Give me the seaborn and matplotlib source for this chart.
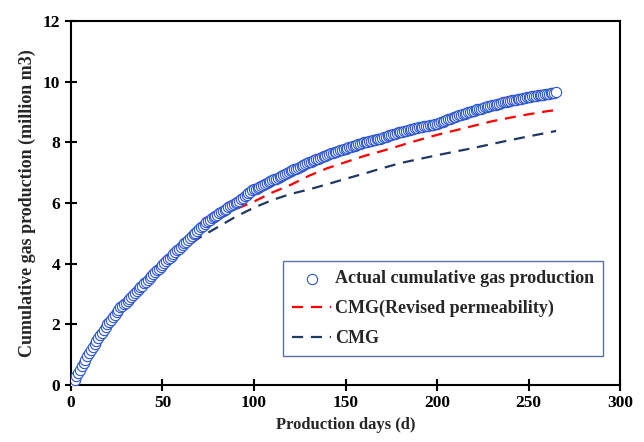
import numpy as np
import pandas as pd
import matplotlib
matplotlib.use("Agg")
import matplotlib.pyplot as plt
import seaborn as sns

# ---- data ----
actual_days = list(range(0, 266))
actual_gas = [
    0.00, 0.08, 0.18, 0.29, 0.40, 0.51, 0.62, 0.73, 0.84, 0.95,
    1.05, 1.15, 1.25, 1.35, 1.45, 1.55, 1.64, 1.73, 1.82, 1.91,
    2.00, 2.08, 2.16, 2.24, 2.32, 2.40, 2.48, 2.56, 2.62, 2.67,
    2.72, 2.78, 2.84, 2.90, 2.96, 3.03, 3.10, 3.16, 3.22, 3.28,
    3.35, 3.41, 3.47, 3.54, 3.60, 3.66, 3.72, 3.78, 3.84, 3.90,
    3.96, 4.02, 4.08, 4.14, 4.20, 4.26, 4.32, 4.38, 4.44, 4.50,
    4.55, 4.61, 4.67, 4.73, 4.79, 4.85, 4.91, 4.97, 5.03, 5.09,
    5.15, 5.21, 5.26, 5.31, 5.36, 5.41, 5.45, 5.50, 5.54, 5.58,
    5.62, 5.66, 5.70, 5.74, 5.78, 5.82, 5.86, 5.90, 5.93, 5.97,
    6.00, 6.04, 6.08, 6.13, 6.18, 6.23, 6.28, 6.33, 6.38, 6.42,
    6.45, 6.48, 6.51, 6.54, 6.57, 6.60, 6.63, 6.66, 6.69, 6.72,
    6.75, 6.78, 6.81, 6.84, 6.87, 6.90, 6.93, 6.96, 6.99, 7.02,
    7.05, 7.08, 7.11, 7.14, 7.17, 7.20, 7.23, 7.26, 7.29, 7.32,
    7.35, 7.37, 7.40, 7.42, 7.45, 7.47, 7.50, 7.52, 7.55, 7.57,
    7.60, 7.62, 7.64, 7.66, 7.68, 7.70, 7.72, 7.74, 7.76, 7.78,
    7.80, 7.82, 7.84, 7.86, 7.88, 7.90, 7.92, 7.94, 7.96, 7.98,
    8.00, 8.01, 8.03, 8.04, 8.06, 8.07, 8.09, 8.10, 8.12, 8.13,
    8.15, 8.17, 8.19, 8.21, 8.23, 8.25, 8.27, 8.29, 8.31, 8.33,
    8.35, 8.36, 8.38, 8.39, 8.41, 8.42, 8.44, 8.45, 8.47, 8.48,
    8.50, 8.51, 8.52, 8.53, 8.54, 8.55, 8.56, 8.57, 8.59, 8.60,
    8.62, 8.64, 8.66, 8.68, 8.71, 8.73, 8.76, 8.78, 8.81, 8.83,
    8.85, 8.87, 8.89, 8.91, 8.93, 8.95, 8.97, 8.99, 9.01, 9.03,
    9.05, 9.07, 9.09, 9.10, 9.12, 9.14, 9.16, 9.17, 9.19, 9.20,
    9.22, 9.23, 9.25, 9.26, 9.28, 9.30, 9.32, 9.33, 9.35, 9.36,
    9.38, 9.39, 9.40, 9.41, 9.43, 9.44, 9.45, 9.46, 9.48, 9.49,
    9.50, 9.51, 9.52, 9.53, 9.54, 9.55, 9.56, 9.57, 9.58, 9.59,
    9.60, 9.61, 9.62, 9.63, 9.64, 9.65]

sim_days = [0, 10, 20, 30, 40, 50, 60, 70, 80, 90, 100, 110, 120, 130, 140,
            150, 160, 170, 180, 190, 200, 210, 220, 230, 240, 250, 260, 265]
cmg_revised = [0.0, 1.0, 1.95, 2.7, 3.35, 3.95, 4.5, 5.0, 5.45, 5.8, 6.05,
               6.35, 6.6, 6.9, 7.15, 7.35, 7.55, 7.72, 7.9, 8.08, 8.25, 8.4,
               8.55, 8.7, 8.82, 8.93, 9.03, 9.07]
cmg = [0.0, 1.0, 1.95, 2.7, 3.3, 3.9, 4.4, 4.85, 5.2, 5.55, 5.85, 6.1, 6.3,
       6.45, 6.62, 6.8, 6.97, 7.15, 7.32, 7.45, 7.58, 7.7, 7.82, 7.95, 8.08,
       8.2, 8.32, 8.38]

x_ticks = [0, 50, 100, 150, 200, 250, 300]
y_ticks = [0, 2, 4, 6, 8, 10, 12]

labels = ["Actual cumulative gas production", "CMG(Revised permeability)", "CMG"]

# ---- style ----
sns.set_style("ticks")
plt.rcParams['font.family'] = ['Liberation Serif', 'DejaVu Serif']
plt.rcParams['font.weight'] = 'bold'
plt.rcParams['axes.labelweight'] = 'bold'

fig = plt.figure(figsize=(6.44, 4.42), dpi=100)
ax = fig.add_axes([0.110, 0.129, 0.853, 0.823])

df_act = pd.DataFrame({"day": actual_days, "gas": actual_gas})
df_rev = pd.DataFrame({"day": sim_days, "gas": cmg_revised})
df_cmg = pd.DataFrame({"day": sim_days, "gas": cmg})

sns.lineplot(data=df_cmg, x="day", y="gas", ax=ax, color="#1F3864",
             linewidth=1.6, label=labels[2], zorder=2)
ax.lines[-1].set_dashes([5, 3.5])
sns.lineplot(data=df_rev, x="day", y="gas", ax=ax, color="#FF0000",
             linewidth=1.6, label=labels[1], zorder=3)
ax.lines[-1].set_dashes([5, 3.5])
sns.scatterplot(data=df_act, x="day", y="gas", ax=ax, marker="o", s=55,
                facecolor="white", edgecolor="#2B55D0", linewidth=0.8,
                label=labels[0], zorder=4)

ax.set_xlim(0, 300)
ax.set_ylim(0, 12)
ax.set_xticks(x_ticks)
ax.set_yticks(y_ticks)
ax.set_xlabel("Production days (d)", fontsize=12, fontweight='bold', labelpad=4)
ax.set_ylabel("Cumulative gas production (million m3)", fontsize=13,
              fontweight='bold', labelpad=5)
ax.tick_params(direction='inout', length=8, width=1.5, labelsize=12.5,
               colors='black')
for lab in ax.get_xticklabels() + ax.get_yticklabels():
    lab.set_fontweight('bold')
for sp in ax.spines.values():
    sp.set_linewidth(1.5)
    sp.set_color('black')
    sp.set_visible(True)

handles, labs = ax.get_legend_handles_labels()
order = [labs.index(l) for l in labels]
leg = ax.legend([handles[i] for i in order], [labs[i] for i in order],
                loc='lower right', bbox_to_anchor=(0.969, 0.08),
                prop={'family': 'Liberation Serif', 'weight': 'bold', 'size': 13},
                frameon=True, fancybox=False, handlelength=2.2,
                borderpad=0.5, labelspacing=0.7, handletextpad=0.2,
                borderaxespad=0)
leg.get_frame().set_edgecolor('#2F4F8F')
leg.get_frame().set_linewidth(1.0)

fig.savefig("out.png", dpi=100)
